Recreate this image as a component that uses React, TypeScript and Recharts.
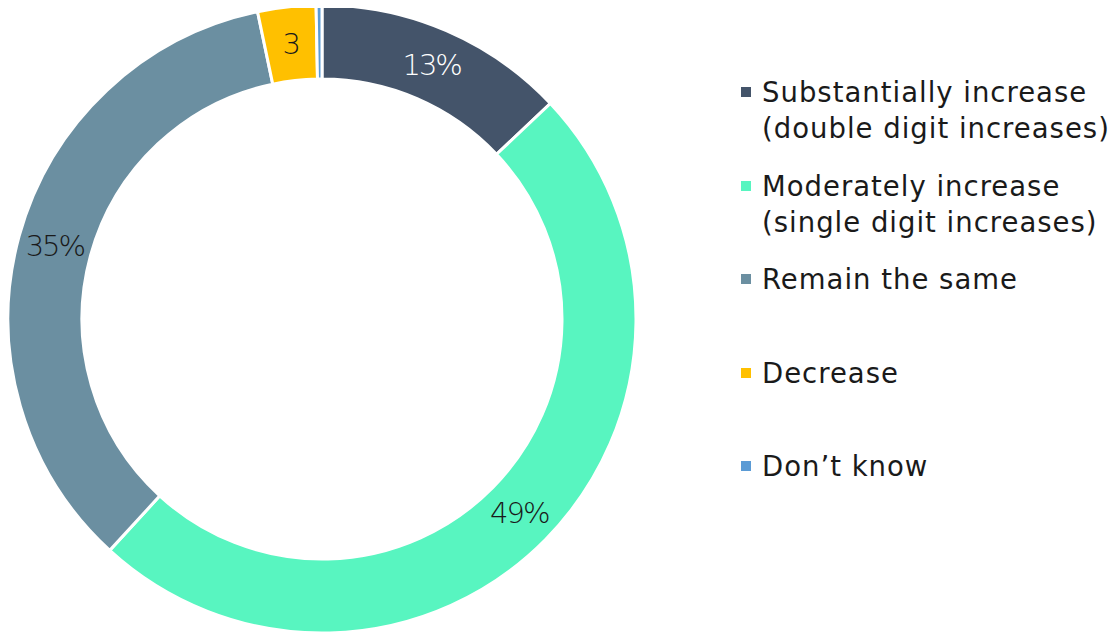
import React from "react";
import { PieChart, Pie, Cell, Legend } from "recharts";

const categories = [
  "Substantially increase (double digit increases)",
  "Moderately increase (single digit increases)",
  "Remain the same",
  "Decrease",
  "Don’t know",
];
const legendLines = [
  ["Substantially increase", "(double digit increases)"],
  ["Moderately increase", "(single digit increases)"],
  ["Remain the same"],
  ["Decrease"],
  ["Don’t know"],
];
const values = [13, 49, 35, 3, 0.3];
const sliceLabels = ["13%", "49%", "35%", "3", ""];
const colors = ["#44546A", "#58F5C0", "#6B8FA1", "#FFC000", "#5B9BD5"];
const labelColors = ["#FFFFFF", "#1A1A1A", "#1A1A1A", "#1A1A1A", "#1A1A1A"];

const data = categories.map((name, i) => ({ name, value: values[i] }));

const FONT = "'DejaVu Sans', sans-serif";
const RADIAN = Math.PI / 180;

const renderLabel = (props: any) => {
  const { cx, cy, midAngle, innerRadius, outerRadius, index } = props;
  const r = (innerRadius + outerRadius) / 2;
  const x = cx + r * Math.cos(-midAngle * RADIAN);
  const y = cy + r * Math.sin(-midAngle * RADIAN);
  const t = sliceLabels[index];
  if (!t) return null;
  return (
    <text
      x={x}
      y={y}
      fill={labelColors[index]}
      textAnchor="middle"
      dominantBaseline="central"
      fontFamily={FONT}
      fontSize={29}
      fontWeight={200}
      letterSpacing={-2}
    >
      {t}
    </text>
  );
};

const renderLegend = () => (
  <div style={{ fontFamily: FONT, fontSize: 27.5, letterSpacing: 1.0, fontWeight: 400, color: "#1A1A1A" }}>
    {legendLines.map((lines, i) => (
      <div key={i} style={{ position: "relative", height: 93.5 }}>
        <div
          style={{
            position: "absolute",
            left: 0,
            top: 13,
            width: 10,
            height: 10,
            background: colors[i],
          }}
        />
        <div style={{ position: "absolute", left: 21, top: 0, lineHeight: "36px", whiteSpace: "nowrap" }}>
          {lines.map((l, j) => (
            <div key={j}>{l}</div>
          ))}
        </div>
      </div>
    ))}
  </div>
);

export default function App() {
  return (
    <PieChart width={1111} height={627} margin={{ top: 0, right: 0, bottom: 0, left: 0 }}>
      <Pie
        data={data}
        dataKey="value"
        nameKey="name"
        cx={314}
        cy={311}
        innerRadius={240}
        outerRadius={314}
        startAngle={90}
        endAngle={-270}
        stroke="#FFFFFF"
        strokeWidth={3}
        label={renderLabel}
        labelLine={false}
        isAnimationActive={false}
      >
        {data.map((d, i) => (
          <Cell key={d.name} fill={colors[i]} />
        ))}
      </Pie>
      <Legend
        content={renderLegend}
        layout="vertical"
        verticalAlign="top"
        align="right"
        wrapperStyle={{ left: 733, top: 66, width: 378 }}
      />
    </PieChart>
  );
}
